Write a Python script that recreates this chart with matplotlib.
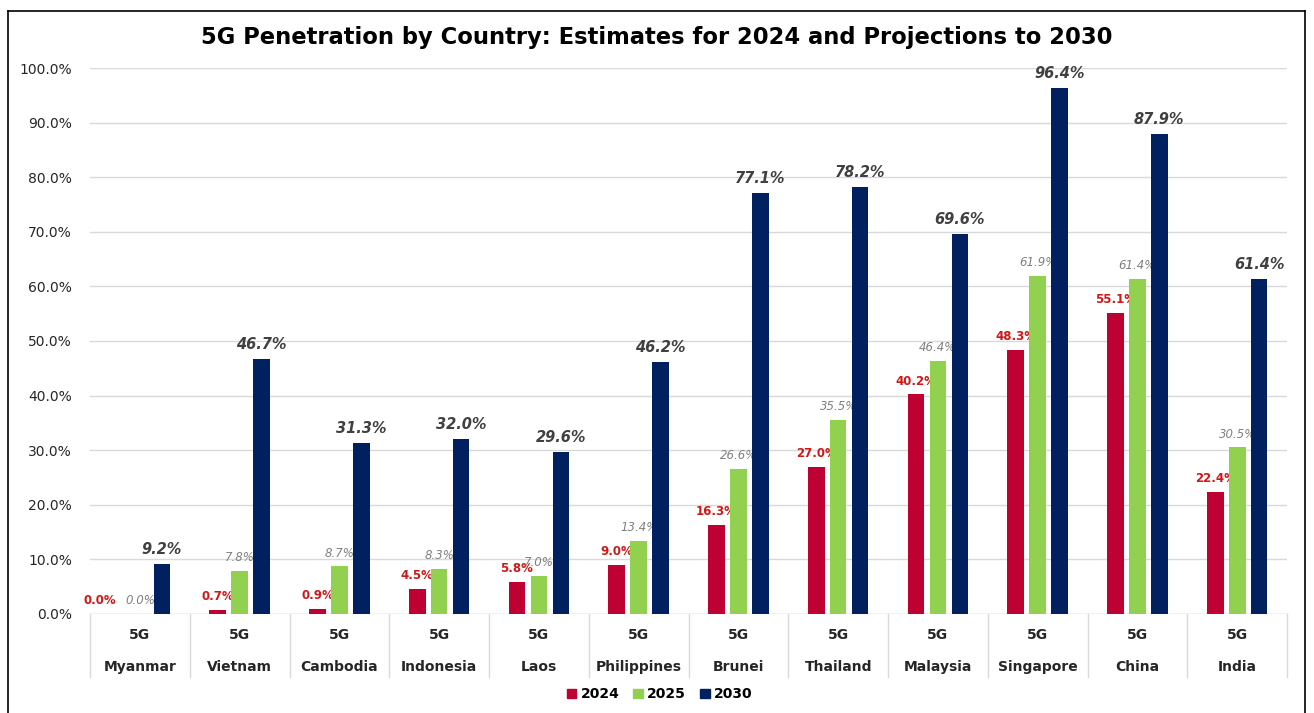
"""
5G penetration by country: 2024 estimates and projections to 2030.
"""

import numpy as np
import matplotlib.pyplot as plt
from matplotlib.lines import Line2D
from matplotlib.patches import Patch
from matplotlib.ticker import FuncFormatter

countries = ['Myanmar', 'Vietnam', 'Cambodia', 'Indonesia', 'Laos', 'Philippines',
             'Brunei', 'Thailand', 'Malaysia', 'Singapore', 'China', 'India']
tech = '5G'
years = ['2024', '2025', '2030']
pen_2024 = [0.0, 0.7, 0.9, 4.5, 5.8, 9.0, 16.3, 27.0, 40.2, 48.3, 55.1, 22.4]
pen_2025 = [0.0, 7.8, 8.7, 8.3, 7.0, 13.4, 26.6, 35.5, 46.4, 61.9, 61.4, 30.5]
pen_2030 = [9.2, 46.7, 31.3, 32.0, 29.6, 46.2, 77.1, 78.2, 69.6, 96.4, 87.9, 61.4]

colors = ['#BE0032', '#92D050', '#002060']
grid_col = '#D9D9D9'

fig = plt.figure(figsize=(13.14, 7.13), dpi=100)
ax = fig.add_axes([0.0685, 0.1389, 0.911, 0.7657])

x = np.arange(len(countries))
width = 0.167
offset = 0.22

series = [pen_2024, pen_2025, pen_2030]
label_styles = [
    dict(color='#D01818', fontweight='bold', fontsize=8.5),
    dict(color='#808080', fontstyle='italic', fontsize=8.5),
    dict(color='#404040', fontweight='bold', fontstyle='italic', fontsize=10.5),
]

for i, (vals, col, style) in enumerate(zip(series, colors, label_styles)):
    pos = x + (i - 1) * offset
    ax.bar(pos, vals, width, color=col, zorder=3)
    for j, (p, v) in enumerate(zip(pos, vals)):
        dx = 0
        # nudge the 2024 label aside when both early years sit at zero
        if i == 0 and v == 0 and pen_2025[j] == 0:
            dx = -13
        ax.annotate(f'{v:.1f}%', (p, v), textcoords='offset points', xytext=(dx, 5),
                    ha='center', va='bottom', annotation_clip=False, **style)

ax.set_xlim(-0.5, len(countries) - 0.5)
ax.set_ylim(0, 100)
ax.set_yticks(np.arange(0, 101, 10))
ax.yaxis.set_major_formatter(FuncFormatter(lambda v, _: f'{v:.1f}%'))
ax.tick_params(axis='y', length=0, labelsize=10, pad=13, labelcolor='#262626')
ax.set_xticks([])
ax.grid(axis='y', color=grid_col, linewidth=1, zorder=0)
for s in ax.spines.values():
    s.set_visible(False)
ax.axhline(0, color=grid_col, linewidth=1, zorder=2)

# two-level category axis drawn as a small table below the plot
trans = ax.get_xaxis_transform()
for b in np.arange(-0.5, len(countries), 1.0):
    ax.add_line(Line2D([b, b], [0, -0.115], transform=trans, color=grid_col,
                       linewidth=1, clip_on=False))
for xi, name in zip(x, countries):
    ax.text(xi, -0.038, tech, transform=trans, ha='center', va='center',
            fontsize=10, fontweight='bold', color='#262626')
    ax.text(xi, -0.098, name, transform=trans, ha='center', va='center',
            fontsize=10, fontweight='bold', color='#262626')

fig.suptitle('5G Penetration by Country: Estimates for 2024 and Projections to 2030',
             x=0.5, y=0.947, va='center', fontsize=16.3, fontweight='bold', color='#000000')

handles = [Patch(color=c) for c in colors]
fig.legend(handles, years, loc='center', bbox_to_anchor=(0.502, 0.026), ncol=3,
           frameon=False, handlelength=0.7, handleheight=0.7, handletextpad=0.3,
           columnspacing=1.0, prop={'weight': 'bold', 'size': 10})

# outer frame
for xs, ys in [([8, 8], [-5, 702.5]), ([8, 1305], [702.5, 702.5]), ([1305, 1305], [-5, 702.5])]:
    fig.add_artist(Line2D(np.array(xs) / 1314, np.array(ys) / 713,
                          transform=fig.transFigure, color='black', linewidth=1.2))

plt.savefig('out.png', dpi=100)
